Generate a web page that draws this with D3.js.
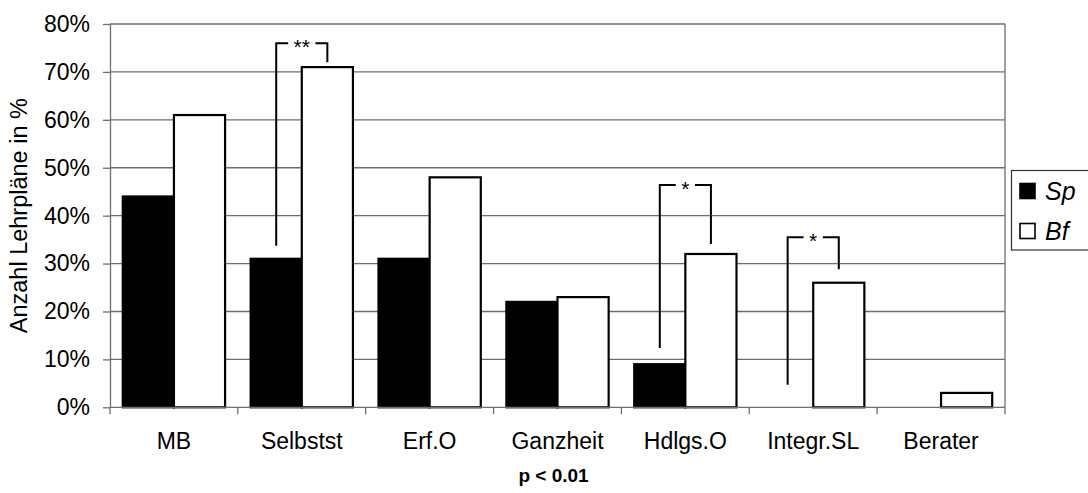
<!DOCTYPE html>
<html>
<head>
<meta charset="utf-8">
<script src="https://cdn.jsdelivr.net/npm/d3@7"></script>
<style>
  html, body { margin: 0; padding: 0; background: #fff; }
  svg { display: block; font-family: "Liberation Sans", Arial, sans-serif; }
</style>
</head>
<body>
<svg id="chart" width="1088" height="493"></svg>
<script>
// ---- data ----
const categories = ["MB", "Selbstst", "Erf.O", "Ganzheit", "Hdlgs.O", "Integr.SL", "Berater"];
const seriesNames = ["Sp", "Bf"];
const spValues = [44, 31, 31, 22, 9, 0, 0];
const bfValues = [61, 71, 48, 23, 32, 26, 3];
const yTicks = [0, 10, 20, 30, 40, 50, 60, 70, 80];
// significance brackets: category, label, top level, left leg end, right leg end (in %)
const sigCategories = ["Selbstst", "Hdlgs.O", "Integr.SL"];
const sigLabels = ["**", "*", "*"];
const sigTop = [76, 46.4, 35.5];
const sigLeftEnd = [33.7, 12.4, 4.7];
const sigRightEnd = [72, 34.1, 28.8];
const xTitle = "p < 0.01";
const yTitle = "Anzahl Lehrpläne in %";

// ---- layout ----
const svg = d3.select("#chart");
const plot = { left: 110, right: 1005, top: 24, bottom: 407.3 };
const fill = { Sp: "#000", Bf: "#fff" };

const x0 = d3.scaleBand().domain(categories).range([plot.left, plot.right])
  .paddingInner(0.2).paddingOuter(0.1);
const x1 = d3.scaleBand().domain(seriesNames).range([0, x0.bandwidth()]);
const y = d3.scaleLinear().domain([0, 80]).range([plot.bottom, plot.top]);

const rows = categories.map((c, i) => ({ cat: c, Sp: spValues[i], Bf: bfValues[i] }));

// gridlines
svg.append("g").selectAll("line").data(yTicks.filter(t => t > 0)).join("line")
  .attr("x1", plot.left).attr("x2", plot.right)
  .attr("y1", d => y(d)).attr("y2", d => y(d))
  .attr("stroke", "#6e6e6e").attr("stroke-width", 1.3);

// right border of plot area
svg.append("line").attr("x1", plot.right).attr("x2", plot.right)
  .attr("y1", plot.top).attr("y2", plot.bottom)
  .attr("stroke", "#6e6e6e").attr("stroke-width", 1.3);

// y axis
const yAxis = svg.append("g").attr("transform", `translate(${plot.left},0)`)
  .call(d3.axisLeft(y).tickValues(yTicks).tickFormat(d => d + "%")
    .tickSize(7).tickPadding(13).tickSizeOuter(0));
yAxis.select(".domain").attr("stroke", "#6e6e6e").attr("stroke-width", 1.3);
yAxis.selectAll(".tick line").attr("stroke", "#6e6e6e").attr("stroke-width", 1.3);
yAxis.selectAll(".tick text").attr("font-size", 23).attr("fill", "#000")
  .attr("font-family", "'Liberation Sans', Arial, sans-serif");

// bars
const groups = svg.append("g").selectAll("g").data(rows).join("g")
  .attr("transform", d => `translate(${x0(d.cat)},0)`);
groups.selectAll("rect").data(d => seriesNames.map(s => ({ s, v: d[s] })).filter(e => e.v > 0))
  .join("rect")
  .attr("x", d => x1(d.s)).attr("width", x1.bandwidth())
  .attr("y", d => y(d.v)).attr("height", d => y(0) - y(d.v))
  .attr("fill", d => fill[d.s]).attr("stroke", "#000").attr("stroke-width", 2.2);

// x axis line and boundary ticks
svg.append("line").attr("x1", plot.left).attr("x2", plot.right)
  .attr("y1", plot.bottom).attr("y2", plot.bottom)
  .attr("stroke", "#6e6e6e").attr("stroke-width", 1.3);
const boundaries = d3.range(categories.length + 1);
const step = x0.step();
svg.append("g").selectAll("line").data(boundaries).join("line")
  .attr("x1", i => plot.left + i * step).attr("x2", i => plot.left + i * step)
  .attr("y1", plot.bottom).attr("y2", plot.bottom + 7)
  .attr("stroke", "#6e6e6e").attr("stroke-width", 1.3);

// x labels
const xAxis = svg.append("g").attr("transform", `translate(0,${plot.bottom})`)
  .call(d3.axisBottom(x0).tickSize(0).tickSizeOuter(0));
xAxis.select(".domain").remove();
xAxis.selectAll(".tick text").attr("y", 42).attr("dy", "0")
  .attr("font-size", 23).attr("fill", "#000")
  .attr("font-family", "'Liberation Sans', Arial, sans-serif");

// x title
svg.append("text").attr("x", (plot.left + plot.right) / 2 - 4).attr("y", 482)
  .attr("text-anchor", "middle").attr("font-weight", "bold").attr("font-size", 19)
  .text(xTitle);

// y title
svg.append("text").attr("transform", `translate(27,${(plot.top + plot.bottom) / 2}) rotate(-90)`)
  .attr("text-anchor", "middle").attr("font-size", 23.5).text(yTitle);

// significance brackets
const sig = svg.append("g");
sigCategories.forEach((c, i) => {
  const xl = x0(c) + x1("Sp") + x1.bandwidth() / 2;
  const xr = x0(c) + x1("Bf") + x1.bandwidth() / 2;
  const yt = y(sigTop[i]);
  const xm = (xl + xr) / 2;
  const t = sig.append("text").attr("x", xm).attr("y", yt + 11)
    .attr("text-anchor", "middle").attr("font-size", 21).text(sigLabels[i]);
  const w = t.node().getComputedTextLength();
  const gap = w / 2 + 5.5;
  sig.append("path")
    .attr("d", `M${xl},${y(sigLeftEnd[i])}V${yt}H${xm - gap}`)
    .attr("fill", "none").attr("stroke", "#000").attr("stroke-width", 2);
  sig.append("path")
    .attr("d", `M${xm + gap},${yt}H${xr}V${y(sigRightEnd[i])}`)
    .attr("fill", "none").attr("stroke", "#000").attr("stroke-width", 2);
});

// legend
const lg = svg.append("g");
lg.append("rect").attr("x", 1011.5).attr("y", 170.5).attr("width", 100).attr("height", 79.5)
  .attr("fill", "#fff").attr("stroke", "#333").attr("stroke-width", 1.2);
seriesNames.forEach((s, i) => {
  const cy = 191 + i * 40;
  lg.append("rect").attr("x", 1020).attr("y", cy - 7.5).attr("width", 15).attr("height", 15)
    .attr("fill", fill[s]).attr("stroke", "#000").attr("stroke-width", 1.6);
  lg.append("text").attr("x", 1045).attr("y", cy + 9).attr("font-size", 25)
    .attr("font-style", "italic").text(s);
});
</script>
</body>
</html>
